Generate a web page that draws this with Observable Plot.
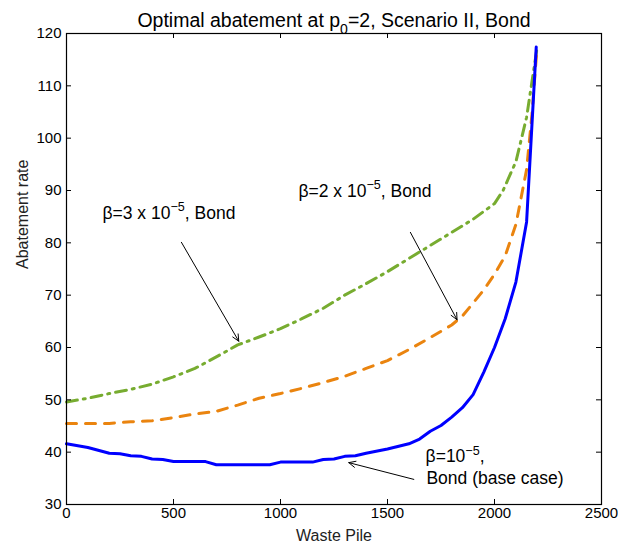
<!DOCTYPE html>
<html>
<head>
<meta charset="utf-8">
<script src="https://cdn.jsdelivr.net/npm/d3@7"></script>
<script src="https://cdn.jsdelivr.net/npm/@observablehq/plot@0.6"></script>
<style>
  html, body { margin: 0; padding: 0; background: white; }
  #chart { width: 618px; height: 554px; }
</style>
</head>
<body>
<div id="chart"></div>
<script>
// ---- data ----
const titleText = "Optimal abatement at p_{0}=2, Scenario II, Bond";
const xLabel = "Waste Pile";
const yLabel = "Abatement rate";
const xTicks = [0, 500, 1000, 1500, 2000, 2500];
const yTicks = [30, 40, 50, 60, 70, 80, 90, 100, 110, 120];

// beta = 1e-5 (base case), blue solid
const pileBase = [0, 100, 200, 250, 300, 350, 400, 450, 500, 650, 700, 950, 1000, 1150, 1200, 1250, 1300, 1350, 1400, 1500, 1600, 1650, 1700, 1750, 1800, 1850, 1900, 1950, 2000, 2050, 2100, 2150, 2195];
const rateBase = [41.6, 40.9, 39.8, 39.7, 39.3, 39.2, 38.7, 38.6, 38.2, 38.2, 37.6, 37.6, 38.1, 38.1, 38.6, 38.7, 39.2, 39.3, 39.8, 40.6, 41.6, 42.5, 44.0, 45.1, 46.7, 48.5, 51.0, 55.3, 60.0, 65.5, 72.5, 84.0, 117.4];

// beta = 2e-5, orange dashed
const pileB2 = [0, 100, 200, 300, 400, 500, 600, 700, 800, 900, 1000, 1100, 1200, 1300, 1400, 1500, 1600, 1700, 1800, 1850, 1900, 1950, 2000, 2050, 2100, 2150, 2175, 2198];
const rateB2 = [45.5, 45.5, 45.5, 45.8, 46.0, 46.6, 47.3, 47.8, 49.0, 50.3, 51.2, 52.2, 53.3, 54.5, 56.0, 57.5, 59.6, 61.9, 64.3, 66.0, 68.5, 71.0, 74.0, 77.5, 83.5, 94.0, 104.5, 117.0];

// beta = 3e-5, green dash-dot
const pileB3 = [0, 100, 200, 300, 400, 500, 600, 700, 800, 900, 1000, 1100, 1200, 1300, 1400, 1500, 1600, 1700, 1800, 1900, 2000, 2040, 2100, 2150, 2198];
const rateB3 = [49.6, 50.3, 51.2, 52.0, 53.0, 54.4, 56.0, 58.2, 60.5, 62.0, 63.6, 65.5, 67.5, 70.0, 72.2, 74.5, 77.0, 79.5, 82.0, 84.5, 87.5, 90.0, 95.5, 104.0, 117.0];

// annotations
const noteText = ["\u03b2=3 x 10^{\u22125}, Bond", "\u03b2=2 x 10^{\u22125}, Bond", "\u03b2=10^{\u22125},", "Bond (base case)"];
const noteX = [168, 1084, 1678, 1682];
const noteY = [85.7, 89.9, 39.2, 34.9];

const arrowX1 = [537, 1607, 1623];
const arrowY1 = [80.1, 82.0, 34.8];
const arrowX2 = [805, 1825, 1319];
const arrowY2 = [61.2, 65.3, 38.0];

// ---- build ----
const rows = (xs, ys) => xs.map((x, i) => ({x, y: ys[i]}));
const notes = noteText.map((t, i) => ({t, x: noteX[i], y: noteY[i]}));
const arrows = arrowX1.map((x1, i) => ({x1, y1: arrowY1[i], x2: arrowX2[i], y2: arrowY2[i]}));

const W = 618, H = 554, mL = 66, mR = 17, mT = 33, mB = 50;
const pw = W - mL - mR, ph = H - mT - mB;
const tick = 5;

const chart = Plot.plot({
  width: W, height: H,
  marginLeft: mL, marginRight: mR, marginTop: mT, marginBottom: mB,
  style: {fontFamily: "'Liberation Sans', Arial, Helvetica, sans-serif", fontSize: "15px", background: "white", color: "black", overflow: "visible"},
  x: {domain: [0, 2500]},
  y: {domain: [30, 120]},
  marks: [
    Plot.line(rows(pileB3, rateB3), {x: "x", y: "y", stroke: "#77ac30", strokeWidth: 3, strokeDasharray: "11,6,2,6"}),
    Plot.line(rows(pileB2, rateB2), {x: "x", y: "y", stroke: "#ea840f", strokeWidth: 3, strokeDasharray: "10,9"}),
    Plot.line(rows(pileBase, rateBase), {x: "x", y: "y", stroke: "#0000ff", strokeWidth: 3}),
    Plot.frame({stroke: "black", strokeWidth: 1.2}),
    Plot.tickX(xTicks, {x: d => d, insetTop: ph - tick, stroke: "black"}),
    Plot.tickX(xTicks, {x: d => d, insetBottom: ph - tick, stroke: "black"}),
    Plot.tickY(yTicks, {y: d => d, insetLeft: pw - tick, stroke: "black"}),
    Plot.tickY(yTicks, {y: d => d, insetRight: pw - tick, stroke: "black"}),
    Plot.axisX(xTicks, {anchor: "bottom", tickSize: 0, tickPadding: 3, label: null, tickFormat: d => String(d), fontSize: 15}),
    Plot.axisY(yTicks, {anchor: "left", tickSize: 0, tickPadding: 5, label: null, tickFormat: d => String(d), fontSize: 15}),
    Plot.text([xLabel], {frameAnchor: "bottom", dy: 36, fontSize: 16, fill: "#222"}),
    Plot.text([yLabel], {frameAnchor: "left", dx: -44, rotate: -90, fontSize: 16, fill: "#222"}),
    Plot.text([titleText], {frameAnchor: "top", dy: -20, fontSize: 19.5}),
    Plot.arrow(arrows, {x1: "x1", y1: "y1", x2: "x2", y2: "y2", stroke: "black", strokeWidth: 1, headLength: 11, headAngle: 50}),
    Plot.text(notes, {x: "x", y: "y", text: "t", textAnchor: "start", fontSize: 17.5})
  ]
});

document.getElementById("chart").appendChild(chart);

// render ^{..} and _{..} as super/subscripts
const NS = "http://www.w3.org/2000/svg";
d3.select(chart).selectAll("text").each(function() {
  const el = this;
  const s = el.textContent;
  if (!/[\^_]\{/.test(s)) return;
  const fs = parseFloat(getComputedStyle(el).fontSize) || 15;
  while (el.firstChild) el.removeChild(el.firstChild);
  const re = /([\^_])\{([^}]*)\}/g;
  let last = 0, m, shift = 0;
  const add = (txt, dy, size) => {
    const t = document.createElementNS(NS, "tspan");
    t.textContent = txt;
    if (dy) t.setAttribute("dy", dy);
    if (size) t.setAttribute("font-size", size);
    el.appendChild(t);
  };
  while ((m = re.exec(s))) {
    if (m.index > last) { add(s.slice(last, m.index), -shift, null); shift = 0; }
    const d = m[1] === "^" ? -0.42 * fs : 0.36 * fs;
    add(m[2], d - shift, 0.72 * fs);
    shift = d;
    last = re.lastIndex;
  }
  if (last < s.length) add(s.slice(last), -shift, null);
});
</script>
</body>
</html>
